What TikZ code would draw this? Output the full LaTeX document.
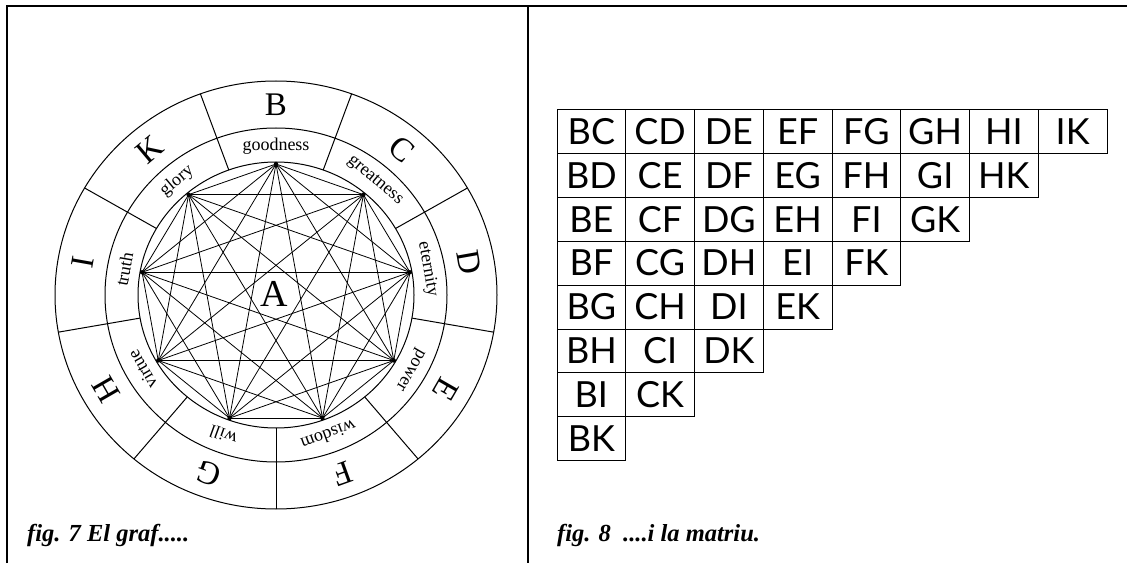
\documentclass[tikz,border=0pt]{standalone}
\usepackage{fontspec}
\newfontfamily\capfont{Liberation Serif}
\newfontfamily\wheelfont{Liberation Serif}
\newfontfamily\matfont{Lato}
\begin{document}
\begin{tikzpicture}[x=1pt,y=1pt,
  ring/.style={line width=1pt},
  edge/.style={line width=0.8pt},
  letter/.style={font=\wheelfont\fontsize{33}{33}\selectfont,inner sep=0pt},
  word/.style={font=\wheelfont\fontsize{18}{18}\selectfont,inner sep=0pt},
  cellbox/.style={draw,line width=0.8pt},
  celltext/.style={inner sep=0pt,font=\matfont\fontsize{36}{36}\selectfont},
  frame/.style={line width=1.5pt},
  captext/.style={font=\capfont\bfseries\itshape\fontsize{24.5}{24.5}\selectfont,anchor=base west,inner sep=0pt}]
\useasboundingbox (0,0) rectangle (1127,563);
% panel frame
\draw[frame] (7,0) -- (7,557) -- (1127,557);
\draw[frame] (528,557) -- (528,0);
% wheel
\begin{scope}[shift={(276,268)}]
  \coordinate (O) at (0,0);
  \draw[ring] (O) ellipse [x radius=221, y radius=214];
  \draw[ring] (O) ellipse [x radius=171, y radius=167];
  \draw[ring] (O) ellipse [x radius=138, y radius=133];
  \foreach \a in {110,70,30,-10,-50,-90,-130,-170,-210}
    \draw[ring] (\a:138 and 133) -- (\a:221 and 214);
  \foreach \a/\l/\w [count=\k] in {90/B/goodness,50/C/greatness,10/D/eternity,-30/E/power,-70/F/wisdom,-110/G/will,-150/H/virtue,-190/I/truth,-230/K/glory}{
    \coordinate (v\k) at (\a:136 and 131);
    \node[letter,rotate=\a-90] (L\k) at (\a:196 and 190) {\l};
    \node[word,rotate=\a-90] (W\k) at (\a:154 and 149) {\w};
  }
  \foreach \i in {1,...,9}
    \foreach \j in {1,...,9}{
      \ifnum\j>\i \draw[edge] (v\i) -- (v\j); \fi
    }
  \foreach \k in {1,...,9} \fill (v\k) circle (2.2);
  \node[font=\wheelfont\fontsize{38}{38}\selectfont,inner sep=0pt] (A) at (-2,1) {A};
\end{scope}
% matrix
\newcommand\mrow[2]{%
  \foreach \t [count=\j from 0] in {#2}{
    \draw[cellbox] ({557+68.75*\j},{563-109.4-43.9*#1}) rectangle ++(68.75,-43.9);
    \node[celltext] (m#1-\j) at ({557+68.75*(\j+0.5)},{563-109.4-43.9*(#1+0.5)}) {\t};}}
\mrow{0}{BC,CD,DE,EF,FG,GH,HI,IK}
\mrow{1}{BD,CE,DF,EG,FH,GI,HK}
\mrow{2}{BE,CF,DG,EH,FI,GK}
\mrow{3}{BF,CG,DH,EI,FK}
\mrow{4}{BG,CH,DI,EK}
\mrow{5}{BH,CI,DK}
\mrow{6}{BI,CK}
\mrow{7}{BK}
% captions
\node[captext] (capL) at (27,22) {fig. 7 El graf.....};
\node[captext] (capR) at (557,22) {fig. 8\ \ ....i la matriu.};
\end{tikzpicture}
\end{document}
